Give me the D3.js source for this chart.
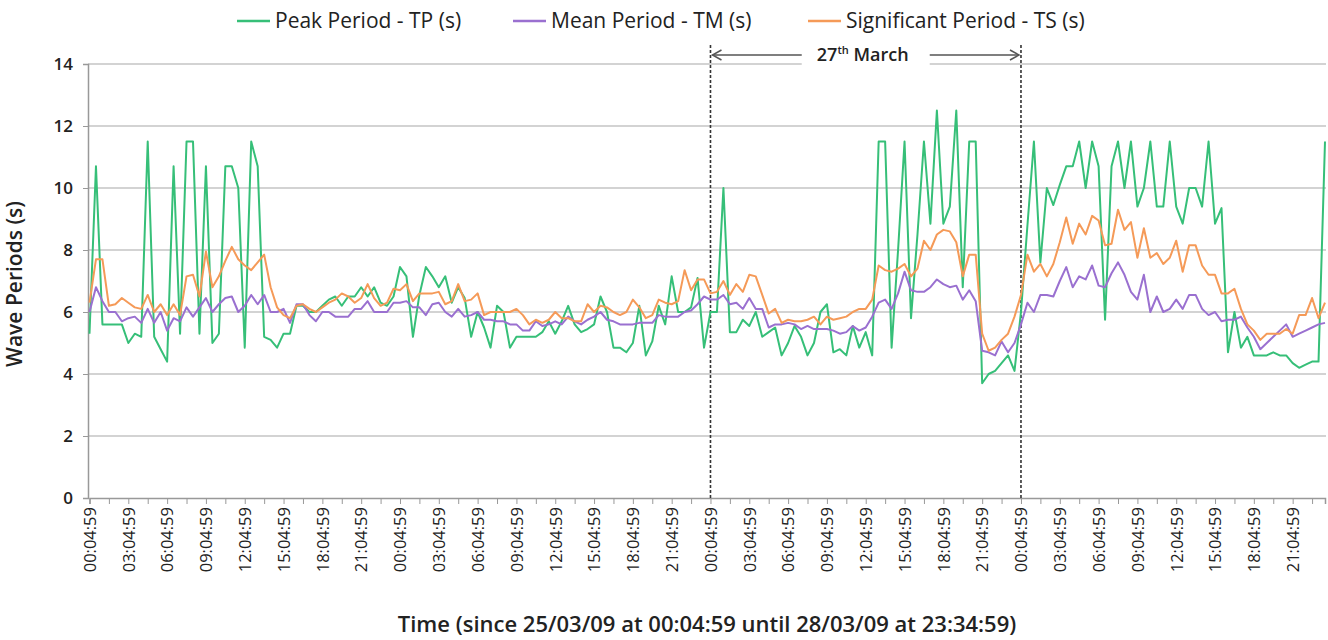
<!DOCTYPE html>
<html lang="en">
<head>
<meta charset="utf-8">
<title>Wave Periods</title>
<script src="https://cdn.jsdelivr.net/npm/d3@7"></script>
<style>
  body { margin: 0; background: #fff; }
  svg { display: block; background: #fff; font-family: "Open Sans", sans-serif; }
</style>
</head>
<body>
<div id="chart"></div>
<script>
// half-hourly samples, 25/03/09 00:04:59 .. 28/03/09 23:34:59
var tp = [5.3,10.7,5.6,5.6,5.6,5.6,5.0,5.3,5.2,11.5,5.2,4.8,4.4,10.7,5.3,11.5,11.5,5.3,10.7,5.0,5.3,10.7,10.7,10.0,
  4.85,11.5,10.7,5.2,5.1,4.85,5.3,5.3,6.2,6.2,6.0,6.0,6.2,6.4,6.5,6.2,6.5,6.5,6.8,6.5,6.8,6.3,6.2,6.5,
  7.45,7.15,5.2,6.55,7.45,7.15,6.8,7.15,6.3,6.8,6.45,5.2,6.0,5.5,4.85,6.2,6.0,4.85,5.2,5.2,5.2,5.2,5.35,5.7,
  5.3,5.7,6.2,5.6,5.35,5.45,5.6,6.5,6.0,4.85,4.85,4.7,5.0,6.2,4.6,5.05,6.2,5.6,7.15,6.0,6.0,6.15,7.1,4.85,
  6.0,6.0,10.0,5.35,5.35,5.75,5.55,6.0,5.2,5.35,5.5,4.6,5.0,5.55,5.2,4.6,5.0,6.0,6.25,4.7,4.8,4.6,5.55,4.85,
  5.35,4.6,11.5,11.5,4.85,8.0,11.5,5.8,8.5,11.5,8.85,12.5,8.85,9.4,12.5,6.8,11.5,11.5,3.7,4.0,4.1,4.35,4.6,4.1,
  6.0,8.8,11.5,7.6,10.0,9.45,10.1,10.7,10.7,11.5,10.0,11.5,10.7,5.75,10.7,11.5,10.0,11.5,9.4,10.0,11.5,9.4,9.4,11.5,
  9.4,8.85,10.0,10.0,9.4,11.5,8.85,9.35,4.7,6.0,4.85,5.2,4.6,4.6,4.6,4.7,4.6,4.6,4.35,4.2,4.3,4.4,4.4,11.5];

var tm = [6.0,6.8,6.35,6.0,6.0,5.7,5.8,5.85,5.65,6.1,5.65,6.0,5.4,5.8,5.7,6.15,5.85,6.15,6.45,6.0,6.25,6.45,6.5,6.0,
  6.2,6.55,6.25,6.55,6.0,6.0,6.1,5.65,6.25,6.25,5.9,5.7,6.0,6.0,5.85,5.85,5.85,6.1,6.1,6.35,6.0,6.0,6.0,6.3,
  6.3,6.35,6.15,6.15,5.9,6.25,6.3,6.0,5.85,6.1,5.85,5.9,6.0,5.75,5.75,5.7,5.7,5.6,5.6,5.4,5.4,5.7,5.55,5.6,
  5.7,5.6,5.85,5.7,5.6,5.75,5.85,6.0,5.75,5.7,5.6,5.6,5.6,5.65,5.65,5.65,5.9,5.85,5.85,5.85,6.0,6.05,6.25,6.5,
  6.4,6.4,6.55,6.25,6.3,6.1,6.45,6.1,6.1,5.5,5.6,5.6,5.65,5.6,5.45,5.55,5.45,5.45,5.45,5.4,5.3,5.35,5.55,5.4,
  5.5,5.85,6.3,6.4,6.1,6.6,7.3,6.7,6.65,6.65,6.8,7.05,6.9,6.8,6.85,6.4,6.7,6.35,4.75,4.7,4.6,5.05,4.7,5.0,
  5.6,6.3,6.0,6.55,6.55,6.5,7.0,7.45,6.8,7.15,7.05,7.5,6.85,6.8,7.25,7.6,7.2,6.65,6.4,7.2,6.0,6.5,6.0,6.1,
  6.4,6.1,6.55,6.55,6.1,5.9,6.0,5.7,5.75,5.75,5.85,5.5,5.2,4.8,5.0,5.2,5.4,5.6,5.2,5.3,5.4,5.5,5.6,5.65];

var ts = [6.3,7.7,7.7,6.2,6.25,6.45,6.3,6.15,6.1,6.55,6.0,6.25,5.9,6.25,5.9,7.15,7.2,6.5,7.95,6.8,7.15,7.65,8.1,7.7,
  7.5,7.35,7.6,7.85,6.8,6.15,5.9,5.8,6.2,6.25,6.1,6.0,6.15,6.3,6.4,6.6,6.5,6.3,6.45,6.9,6.45,6.2,6.3,6.75,
  6.7,6.9,6.35,6.6,6.6,6.6,6.65,6.25,6.35,6.9,6.35,6.4,6.6,5.9,6.0,6.0,6.0,6.0,6.1,5.9,5.6,5.75,5.65,5.75,
  6.0,5.8,5.8,5.7,5.7,6.25,6.0,6.2,6.15,6.0,5.9,6.0,6.4,6.15,5.8,5.9,6.4,6.3,6.25,6.35,7.35,6.7,7.05,7.05,
  6.6,6.65,7.0,6.55,6.9,6.65,7.2,7.15,6.55,5.95,6.1,5.65,5.75,5.7,5.7,5.75,5.85,5.6,5.85,5.75,5.8,5.85,6.0,6.1,
  6.1,6.4,7.5,7.35,7.3,7.4,7.55,7.15,7.4,8.3,8.0,8.5,8.65,8.6,8.25,7.15,7.85,7.85,5.3,4.75,4.85,5.1,5.3,5.85,
  6.55,7.85,7.3,7.55,7.15,7.55,8.25,9.05,8.2,8.85,8.5,9.1,8.95,8.15,8.2,9.3,8.65,8.9,7.75,8.7,7.75,7.9,7.55,7.75,
  8.3,7.3,8.15,8.15,7.5,7.2,7.2,6.6,6.6,6.75,6.1,5.6,5.4,5.1,5.3,5.3,5.3,5.45,5.3,5.9,5.9,6.45,5.8,6.3];

var hourLabels = ["00:04:59","03:04:59","06:04:59","09:04:59","12:04:59","15:04:59","18:04:59","21:04:59"];
var yTicks = [0,2,4,6,8,10,12,14];
var seriesNames = ["Peak Period - TP (s)", "Mean Period - TM (s)", "Significant Period - TS (s)"];
var seriesColors = ["#36bf78", "#9a70d0", "#f59a58"];
var markIdx = [96, 144];
var markLabel = "March";

var W = 1328, H = 640;
var svg = d3.select("#chart").append("svg").attr("width", W).attr("height", H);

var n = tp.length;
var x = d3.scaleLinear().domain([0, n - 1]).range([89.5, 1325]);
var y = d3.scaleLinear().domain([0, 14]).range([498, 64]);

// gridlines
svg.append("g").selectAll("line").data(yTicks.slice(1)).enter().append("line")
  .attr("x1", 88).attr("x2", 1326)
  .attr("y1", function(d){ return y(d); }).attr("y2", function(d){ return y(d); })
  .attr("stroke", "#c4c4c4").attr("stroke-width", 1.5);

// y axis
var yAxis = svg.append("g").attr("transform", "translate(88,0)")
  .call(d3.axisLeft(y).tickValues(yTicks).tickSize(5).tickPadding(10));
yAxis.select(".domain").attr("stroke", "#999").attr("stroke-width", 1.5);
yAxis.selectAll(".tick line").attr("stroke", "#999");
yAxis.selectAll("text").attr("font-size", 17).attr("font-weight", 600).attr("fill", "#222")
  .attr("font-family", "Open Sans, sans-serif");

// x axis
var tickIdx = d3.range(0, n, 3);
var xAxis = svg.append("g").attr("transform", "translate(0,498)")
  .call(d3.axisBottom(x).tickValues(tickIdx).tickSize(6).tickFormat(function(d){
    return d % 6 === 0 ? hourLabels[(d / 6) % hourLabels.length] : "";
  }));
xAxis.select(".domain").attr("stroke", "#999").attr("stroke-width", 1.5);
xAxis.selectAll(".tick line").attr("stroke", "#999");
xAxis.selectAll("text")
  .attr("font-size", 16.5).attr("fill", "#222").attr("font-family", "Open Sans, sans-serif")
  .attr("transform", "rotate(-90)")
  .attr("text-anchor", "end")
  .attr("x", -9).attr("y", 0).attr("dy", "0.35em");

// day markers
markIdx.forEach(function(i){
  svg.append("line")
    .attr("x1", x(i)).attr("x2", x(i)).attr("y1", 45).attr("y2", 498)
    .attr("stroke", "#333").attr("stroke-width", 1.6).attr("stroke-dasharray", "3,2");
});

// lines
var line = d3.line().x(function(d, i){ return x(i); }).y(function(d){ return y(d); });
[tp, tm, ts].forEach(function(s, k){
  svg.append("path").datum(s)
    .attr("fill", "none").attr("stroke", seriesColors[k])
    .attr("stroke-width", 2).attr("stroke-linejoin", "round")
    .attr("d", line);
});

// 27th March arrow
var ax1 = x(markIdx[0]) + 2, ax2 = x(markIdx[1]) - 2, ay = 55;
svg.append("line").attr("x1", ax1).attr("x2", ax2).attr("y1", ay).attr("y2", ay)
  .attr("stroke", "#555").attr("stroke-width", 1.5);
[[ax1, 1], [ax2, -1]].forEach(function(a){
  svg.append("path")
    .attr("d", "M" + (a[0] + a[1] * 9) + "," + (ay - 5) + "L" + a[0] + "," + ay + "L" + (a[0] + a[1] * 9) + "," + (ay + 5))
    .attr("fill", "none").attr("stroke", "#555").attr("stroke-width", 1.5);
});
var mid = (ax1 + ax2) / 2;
svg.append("rect").attr("x", mid - 64).attr("y", ay - 12).attr("width", 128).attr("height", 24).attr("fill", "#fff");
var ann = svg.append("text").attr("x", mid - 3).attr("y", ay + 6).attr("text-anchor", "middle")
  .attr("font-size", 18).attr("font-weight", 600).attr("fill", "#222");
ann.append("tspan").text("27");
ann.append("tspan").attr("font-size", 11).attr("dy", -7).text("th");
ann.append("tspan").attr("dy", 7).text(" " + markLabel);

// legend
var legX = [237, 513, 808];
seriesNames.forEach(function(name, k){
  var g = svg.append("g").attr("transform", "translate(" + legX[k] + ",21)");
  g.append("line").attr("x1", 0).attr("x2", 33).attr("y1", 0).attr("y2", 0)
    .attr("stroke", seriesColors[k]).attr("stroke-width", 2.5);
  g.append("text").attr("x", 38).attr("y", 0).attr("dy", "0.35em")
    .attr("font-size", 21).attr("fill", "#222").text(name);
});

// axis titles
svg.append("text").attr("transform", "translate(22,284) rotate(-90)")
  .attr("text-anchor", "middle").attr("font-size", 21).attr("font-weight", 600).attr("fill", "#222")
  .text("Wave Periods (s)");
svg.append("text").attr("x", 707).attr("y", 632)
  .attr("text-anchor", "middle").attr("font-size", 22).attr("font-weight", 600).attr("fill", "#222")
  .text("Time (since 25/03/09 at 00:04:59 until 28/03/09 at 23:34:59)");
</script>
</body>
</html>
